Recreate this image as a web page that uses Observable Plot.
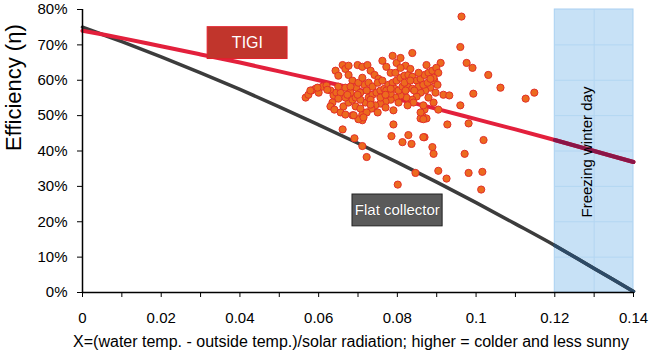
<!DOCTYPE html>
<html><head><meta charset="utf-8">
<script src="https://cdn.jsdelivr.net/npm/d3@7"></script>
<script src="https://cdn.jsdelivr.net/npm/@observablehq/plot@0.6"></script>
<style>
body{margin:0;background:#fff;}
#chart svg{display:block;}
</style>
</head><body><div id="chart"></div>
<script>
// Curves
const curveX = [0,0.01,0.02,0.03,0.04,0.05,0.06,0.07,0.08,0.09,0.10,0.11,0.12,0.13,0.14];
const tigiY  = [74.0,71.9,69.6,67.3,65.0,62.5,60.0,57.4,54.7,51.9,49.0,46.1,43.1,40.0,36.9];
const flatY  = [75.0,70.9,66.6,62.1,57.4,52.5,47.4,42.2,36.8,31.2,25.4,19.4,13.3,6.8,0.3];

// Measured points (x, efficiency %)
const scatterX = [
0.0963,0.0960,0.0910,0.0976,0.0991,0.1031,0.0993,0.1062,0.1126,0.1148,0.0917,0.0932,0.0960,0.0869,0.0864,0.0874,0.0927,0.0981,0.0869,0.1019,
0.0889,0.0892,0.0971,0.0904,0.0925,0.0981,0.1016,0.1013,0.0846,0.0661,0.0691,0.0711,0.0722,0.0790,0.0785,0.0813,0.0828,0.0836,0.0866,0.0801,
0.0711,0.0859,
0.0567,0.0574,0.0582,0.0592,0.0600,0.0610,0.0620,0.0630,0.0638,0.0645,0.0656,0.0650,0.0635,0.0630,0.0640,0.0656,0.0668,0.0663,0.0676,0.0686,
0.0694,0.0686,0.0701,0.0711,0.0706,0.0719,0.0727,0.0737,0.0747,0.0757,0.0767,0.0777,0.0788,0.0798,0.0808,0.0818,0.0828,0.0838,0.0849,0.0859,
0.0869,0.0879,0.0889,0.0899,0.0904,0.0894,0.0884,0.0871,0.0859,0.0849,0.0838,0.0823,0.0808,0.0795,0.0783,0.0770,0.0757,0.0744,0.0734,0.0722,
0.0643,0.0650,0.0661,0.0668,0.0676,0.0676,0.0686,0.0699,0.0711,0.0724,0.0732,0.0742,0.0752,0.0762,0.0772,0.0783,0.0788,0.0798,0.0808,0.0821,
0.0833,0.0838,
0.0696,0.0706,0.0716,0.0727,0.0737,0.0750,0.0762,0.0772,0.0783,0.0793,0.0803,0.0813,0.0826,0.0838,0.0854,0.0866,0.0877,0.0892,0.0902,
0.0892,0.0904,0.0866,0.0841,0.0826,0.0859,0.0866,0.0790,0.0750,0.0714,0.0689,0.0622,0.0597,0.0579,
0.0668,0.0681,0.0668,0.0694,0.0706,
0.0681,0.0701,0.0711,0.0722,0.0732,0.0757,0.0770,0.0783,0.0795,0.0808,0.0818,0.0833,0.0843,0.0854,0.0874,0.0884,0.0897,0.0879,0.0821,0.0803,
0.0770,0.0732,0.0699,0.0673,0.0650
];
const scatterY = [
78.0,69.4,64.9,64.9,63.5,61.5,56.2,57.9,54.8,56.5,55.9,55.7,52.9,51.7,49.8,49.2,47.5,47.8,43.9,43.1,
41.1,39.2,39.2,34.4,32.2,33.8,34.1,29.1,33.8,46.1,43.6,41.4,38.3,47.5,44.2,42.5,44.5,42.0,43.9,30.5,
48.7,49.2,
55.1,55.9,57.1,57.6,56.5,58.2,58.5,57.1,55.7,56.5,56.5,54.8,53.7,52.6,51.7,50.9,50.3,52.6,53.7,54.5,
52.6,50.1,49.0,50.3,52.0,53.7,55.1,55.9,56.5,57.1,57.6,58.7,59.3,59.9,60.7,61.3,61.5,61.0,59.9,60.4,
61.5,62.1,62.7,63.5,62.1,59.9,57.9,57.1,56.5,55.4,54.5,55.1,55.7,55.1,54.5,54.0,53.4,52.9,52.0,50.9,
62.7,61.3,64.3,63.2,64.1,61.5,59.9,64.3,63.8,64.3,62.7,61.5,60.4,65.5,63.8,62.1,66.9,64.9,66.3,64.1,
63.2,67.7,
57.9,56.5,58.7,59.3,58.2,59.3,59.9,57.1,56.2,57.6,57.1,58.2,58.2,57.6,58.2,58.7,59.3,60.7,58.7,
53.7,51.7,52.9,53.7,52.9,50.9,49.0,51.5,50.9,49.5,50.1,57.3,57.9,57.1,
57.9,56.5,55.1,55.1,54.5,
58.2,59.3,60.7,57.1,54.5,55.1,55.9,57.6,62.1,63.5,59.3,59.9,57.1,62.1,64.3,60.4,56.5,55.1,57.1,53.7,
52.3,53.1,55.9,55.9,58.2
];

const xTicks = [0,0.01,0.02,0.03,0.04,0.05,0.06,0.07,0.08,0.09,0.10,0.11,0.12,0.13,0.14];
const xTickLabels = ["0","","0.02","","0.04","","0.06","","0.08","","0.1","","0.12","","0.14"];
const yTicks = [0,10,20,30,40,50,60,70,80];
const yTickLabels = ["0%","10%","20%","30%","40%","50%","60%","70%","80%"];
const freezeZone = [0.12, 0.14];
const xLabel = "X=(water temp. - outside temp.)/solar radiation; higher = colder and less sunny";
const yLabel = "Efficiency (η)";

const tigi = curveX.map((x,i)=>({x, y:tigiY[i]}));
const flat = curveX.map((x,i)=>({x, y:flatY[i]}));
const pts = scatterX.map((x,i)=>({x, y:scatterY[i]}));
const inZone = d => d.x >= freezeZone[0];

const font = "Arial, 'Liberation Sans', Helvetica, sans-serif";

const chart = Plot.plot({
  width: 650, height: 361,
  marginLeft: 82, marginRight: 17, marginTop: 9, marginBottom: 69,
  style: {fontFamily: font, fontSize: "15px", color: "#000", background: "#fff"},
  x: {domain: [0, 0.14]},
  y: {domain: [0, 80]},
  marks: [
    Plot.rect([freezeZone], {x1: d=>d[0], x2: d=>d[1], y1: 0, y2: 80, fill: "#c7e1f6", stroke: "#a9d0f1", strokeWidth: 1}),
    Plot.ruleX([0.13], {y1: 0, y2: 80, stroke: "#b3d6f2", strokeWidth: 1}),
    Plot.ruleY(yTicks.filter(d=>d>0 && d<80), {x1: freezeZone[0], x2: freezeZone[1], stroke: "#b3d6f2", strokeWidth: 1}),
    Plot.line(flat, {x: "x", y: "y", stroke: "#3c3c3c", strokeWidth: 3.5, curve: "catmull-rom"}),
    Plot.line(flat.filter(inZone), {x: "x", y: "y", stroke: "#2d4a66", strokeWidth: 3.5, curve: "catmull-rom"}),
    Plot.line(tigi, {x: "x", y: "y", stroke: "#e3203c", strokeWidth: 4, curve: "catmull-rom"}),
    Plot.line(tigi.filter(inZone), {x: "x", y: "y", stroke: "#8a1548", strokeWidth: 4, curve: "catmull-rom"}),
    Plot.dot(pts, {x: "x", y: "y", r: 3.6, fill: "#ec6a1e", stroke: "#e2302a", strokeWidth: 1}),
    Plot.text(["Freezing winter day"], {x: 0.1283, y: 39.7, rotate: -90, fontSize: 15, fill: "#000"}),
    Plot.rect([0], {x1: 0.0318, x2: 0.0521, y1: 66.0, y2: 75.0, fill: "#c1352c", stroke: "#e2202c", strokeWidth: 1}),
    Plot.text(["TIGI"], {x: 0.0419, y: 70.5, fill: "#fff", fontSize: 16}),
    Plot.rect([0], {x1: 0.0686, x2: 0.0915, y1: 18.7, y2: 27.7, fill: "#5a5a5a", stroke: "#222", strokeWidth: 1}),
    Plot.text(["Flat collector"], {x: 0.0800, y: 23.2, fill: "#fff", fontSize: 15, stroke: "#333", strokeWidth: 0.6, paintOrder: "stroke"}),
    Plot.axisX({ticks: xTicks, tickSize: 5, tickPadding: 15, tickFormat: (d,i)=>xTickLabels[i], label: null, fontSize: 15}),
    Plot.axisY({ticks: yTicks, tickSize: 5, tickPadding: 10, tickFormat: (d,i)=>yTickLabels[i], label: null, fontSize: 15}),
    Plot.ruleX([0], {stroke: "#000", strokeWidth: 1.5}),
    Plot.ruleY([0], {stroke: "#000", strokeWidth: 1.5}),
    Plot.text([xLabel], {frameAnchor: "bottom", dy: 54, dx: -7, fontSize: 16, fill: "#000"}),
    Plot.text([yLabel], {frameAnchor: "left", dx: -69, rotate: -90, fontSize: 22, fill: "#000"})
  ]
});
document.getElementById("chart").appendChild(chart);
</script>
</body></html>
